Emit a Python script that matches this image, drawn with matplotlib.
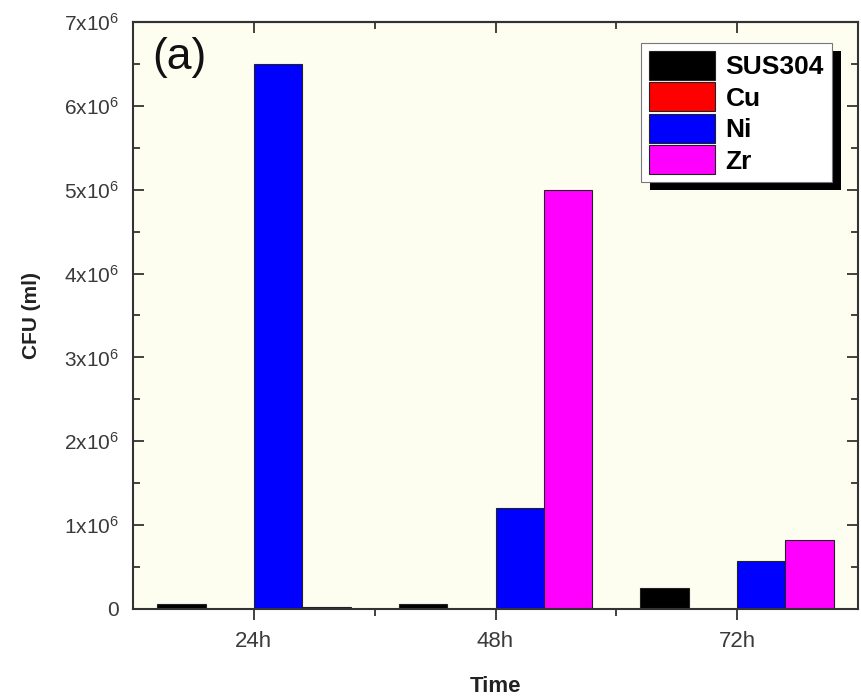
import matplotlib.pyplot as plt
import numpy as np
from matplotlib.patches import Rectangle

plt.rcParams['font.family'] = ['Liberation Sans', 'DejaVu Sans']
plt.rcParams['mathtext.fontset'] = 'custom'
plt.rcParams['mathtext.rm'] = 'Liberation Sans'
plt.rcParams['mathtext.it'] = 'Liberation Sans'

# data
times = ["24h", "48h", "72h"]
materials = ["SUS304", "Cu", "Ni", "Zr"]
sus304 = [0.06e6, 0.06e6, 0.25e6]
cu = [0.0, 0.0, 0.0]
ni = [6.5e6, 1.2e6, 0.57e6]
zr = [0.02e6, 5.0e6, 0.82e6]
colors = ["#000000", "#ff0000", "#0000ff", "#ff00ff"]

fig = plt.figure(figsize=(8.61, 6.97), dpi=100)
ax = fig.add_axes([0.1545, 0.1263, 0.842, 0.8421])
ax.set_facecolor("#fdfdf0")

x = np.arange(1, len(times) + 1)
width = 0.2
series = [sus304, cu, ni, zr]
for i, (vals, name, c) in enumerate(zip(series, materials, colors)):
    ax.bar(x - 0.4 + i * width, vals, width, align="edge", color=c,
           edgecolor="#222222", linewidth=0.8, label=name)

ax.set_xlim(0.5, 3.5)
ax.set_ylim(0, 7e6)

# tick labels like 7x10^6
yt = np.arange(0, 8) * 1e6
ylabels = ["0"] + [r"$%d\mathregular{x}10^{6}$" % k for k in range(1, 8)]
ax.set_yticks(yt)
ax.set_yticklabels(ylabels)
ax.set_yticks(np.arange(0.5, 7, 1) * 1e6, minor=True)
ax.set_xticks(x)
ax.set_xticklabels(times)
ax.set_xticks([1.5, 2.5], minor=True)

tc = "#3a3a3a"
ax.tick_params(axis="y", which="both", direction="in", right=True,
               labelsize=15, labelcolor=tc, color="#333333", width=1.3, pad=10)
ax.tick_params(axis="y", which="major", length=8)
ax.tick_params(axis="y", which="minor", length=5)
ax.tick_params(axis="x", which="both", direction="out",
               labelsize=16, labelcolor=tc, color="#333333", width=1.3)
ax.tick_params(axis="x", which="major", length=8, pad=8)
ax.tick_params(axis="x", which="minor", length=5)

# top axis ticks point inward
top = ax.secondary_xaxis("top")
top.set_xticks(x)
top.set_xticks([1.5, 2.5], minor=True)
top.tick_params(which="both", direction="in", labeltop=False,
                color="#333333", width=1.3)
top.tick_params(which="major", length=8)
top.tick_params(which="minor", length=5)
top.spines["top"].set_color("#333333")
top.spines["top"].set_linewidth(1.5)

for sp in ax.spines.values():
    sp.set_color("#333333")
    sp.set_linewidth(1.5)

ax.set_ylabel("CFU (ml)", fontsize=15, fontweight="bold", color="#222222", labelpad=17)
ax.set_xlabel("Time", fontsize=16, fontweight="bold", color="#222222", labelpad=17)

ax.text(0.026, 0.975, "(a)", transform=ax.transAxes, fontsize=32,
        va="top", ha="left", color="#111111")

leg = ax.legend(loc="upper right", bbox_to_anchor=(0.964, 0.964),
                prop={"weight": "bold", "size": 19}, frameon=True, fancybox=False,
                edgecolor="#777777", framealpha=1, handlelength=2.5,
                handleheight=1.3, handletextpad=0.4, labelspacing=0.1,
                borderpad=0.3, borderaxespad=0)
leg.get_frame().set_linewidth(0.8)

fig.canvas.draw()
bb = leg.get_window_extent().transformed(ax.transAxes.inverted())
dx = 9 / (ax.bbox.width)
dy = 8 / (ax.bbox.height)
shadow = Rectangle((bb.x0 + dx, bb.y0 - dy), bb.width, bb.height,
                   transform=ax.transAxes, facecolor="black", edgecolor="none",
                   zorder=4.9, clip_on=False)
ax.add_patch(shadow)

fig.savefig("out.png", dpi=100)
